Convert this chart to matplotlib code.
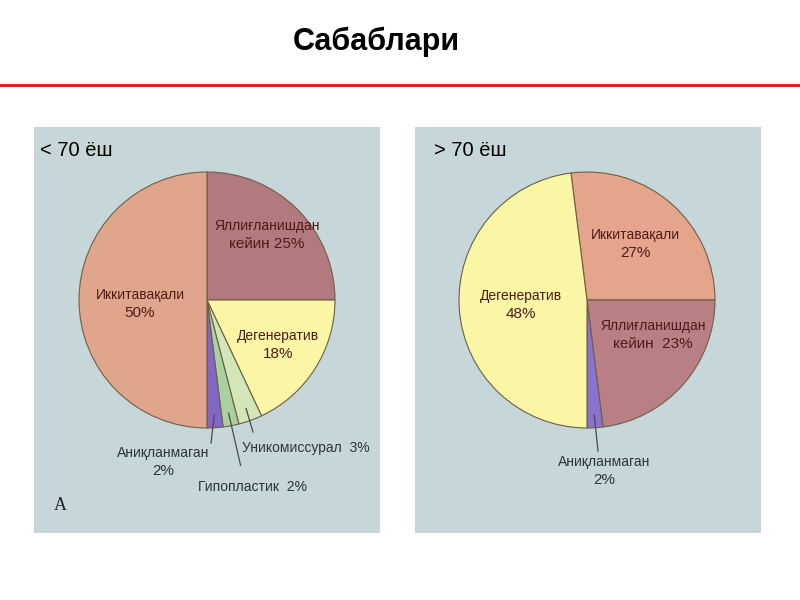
import matplotlib
matplotlib.use("Agg")
import matplotlib.pyplot as plt
from matplotlib.patches import Rectangle
from matplotlib.lines import Line2D
import numpy as np

plt.rcParams['font.family'] = ['Liberation Sans', 'DejaVu Sans']

title = "Сабаблари"
left_title = "< 70 ёш"
right_title = "> 70 ёш"

left_labels = ["Яллиғланишдан\nкейин 25%", "Дегенератив\n18%", "Уникомиссурал  3%",
               "Гипопластик  2%", "Аниқланмаган\n2%", "Иккитавақали\n50%"]
left_values = [25, 18, 3, 2, 2, 50]
right_labels = ["Иккитавақали\n27%", "Яллиғланишдан\nкейин  23%", "Аниқланмаган\n2%",
                "Дегенератив\n48%"]
right_values = [27, 23, 2, 48]

W, H = 800, 600
fig = plt.figure(figsize=(8, 6), dpi=100)
fig.patch.set_facecolor("white")

def fx(px):
    return px / W

def fy(py):
    return 1 - py / H

# title and red rule
fig.text(fx(376), fy(42), title, ha="center", va="center", fontsize=22, fontweight="bold", color="black")
fig.add_artist(Line2D([0, 1], [fy(85), fy(85)], color="#e01010", lw=2, transform=fig.transFigure))

panel_color = "#c6d6d9"
for (x0, x1) in [(34, 380), (415, 761)]:
    fig.add_artist(Rectangle((fx(x0), fy(533)), fx(x1 - x0), (533 - 127) / H,
                             transform=fig.transFigure, facecolor=panel_color, edgecolor="none",
                             zorder=-5))

fig.text(fx(40), fy(151), left_title, ha="left", va="center", fontsize=14.5, color="black")
fig.text(fx(434), fy(151), right_title, ha="left", va="center", fontsize=14.5, color="black")
fig.text(fx(60), fy(505), "A", ha="center", va="center", fontsize=13, family="Liberation Serif", color="#222222")

R = 128.0
LIM = 1.3

def make_pie_ax(cx, cy):
    size = 2 * LIM * R
    ax = fig.add_axes([fx(cx - size / 2), fy(cy + size / 2), size / W, size / H])
    return ax

def finish_ax(ax):
    ax.set_xlim(-LIM, LIM)
    ax.set_ylim(-LIM, LIM)
    ax.set_aspect("equal")
    ax.axis("off")

def d(px, py, cx, cy):
    return ((px - cx) / R, -(py - cy) / R)

edge = "#6e5f45"
inner_col = "#4e1a1a"
outer_col = "#2c3438"

def put_label(ax, lab, px, py, kind, cx, cy):
    col = inner_col if kind == "in" else outer_col
    lines = lab.split("\n")
    if len(lines) == 1:
        x, y = d(px, py, cx, cy)
        ax.text(x, y, lines[0], ha="center", va="center", fontsize=10, color=col)
    else:
        x, y = d(px, py - 9, cx, cy)
        ax.text(x, y, lines[0], ha="center", va="center", fontsize=10, color=col)
        x, y = d(px, py + 9, cx, cy)
        ax.text(x, y, lines[1], ha="center", va="center", fontsize=11, color=col)

# Left pie
lcx, lcy = 207, 300
axl = make_pie_ax(lcx, lcy)
left_colors = ["#b27a7e", "#fbf6a6", "#d3e6b8", "#a9d0a0", "#8367c6", "#e0a68b"]
wl, _ = axl.pie(left_values, colors=left_colors, startangle=90, counterclock=False,
                radius=1.0, wedgeprops=dict(edgecolor=edge, linewidth=0.8))
finish_ax(axl)

left_pos = [(267, 235, "in"), (278, 345, "in"), (306, 448, "out"), (253, 487, "out"), (163, 462, "out"),
            (140, 304, "in")]
for lab, (px, py, kind) in zip(left_labels, left_pos):
    put_label(axl, lab, px, py, kind, lcx, lcy)

# leader lines (left)
cum = np.cumsum([0] + left_values)
leader_ends = {2: (253, 432), 3: (243, 476), 4: (211, 443)}
for i, (ex, ey) in leader_ends.items():
    mid = np.deg2rad(90 - 3.6 * (cum[i] + cum[i + 1]) / 2)
    sx, sy = 0.9 * np.cos(mid), 0.9 * np.sin(mid)
    tx, ty = d(ex, ey, lcx, lcy)
    axl.plot([sx, tx], [sy, ty], color="#4a4a4a", lw=0.9)

# Right pie
rcx, rcy = 587, 300
axr = make_pie_ax(rcx, rcy)
right_colors = ["#e5a58d", "#b88084", "#8a72cf", "#fbf6a6"]
start_r = 90 + 3.6 * (right_values[0] - 25)
wr, _ = axr.pie(right_values, colors=right_colors, startangle=start_r, counterclock=False,
                radius=1.0, wedgeprops=dict(edgecolor=edge, linewidth=0.8))
finish_ax(axr)
right_pos = [(635, 244, "in"), (653, 335, "in"), (604, 471, "out"), (521, 305, "in")]
for lab, (px, py, kind) in zip(right_labels, right_pos):
    put_label(axr, lab, px, py, kind, rcx, rcy)

cumr = np.cumsum([0] + right_values)
mid = np.deg2rad(start_r - 3.6 * (cumr[2] + cumr[3]) / 2)
tx, ty = d(598, 451, rcx, rcy)
axr.plot([0.9 * np.cos(mid), tx], [0.9 * np.sin(mid), ty], color="#4a4a4a", lw=0.9)

fig.savefig("out.png", dpi=100)
